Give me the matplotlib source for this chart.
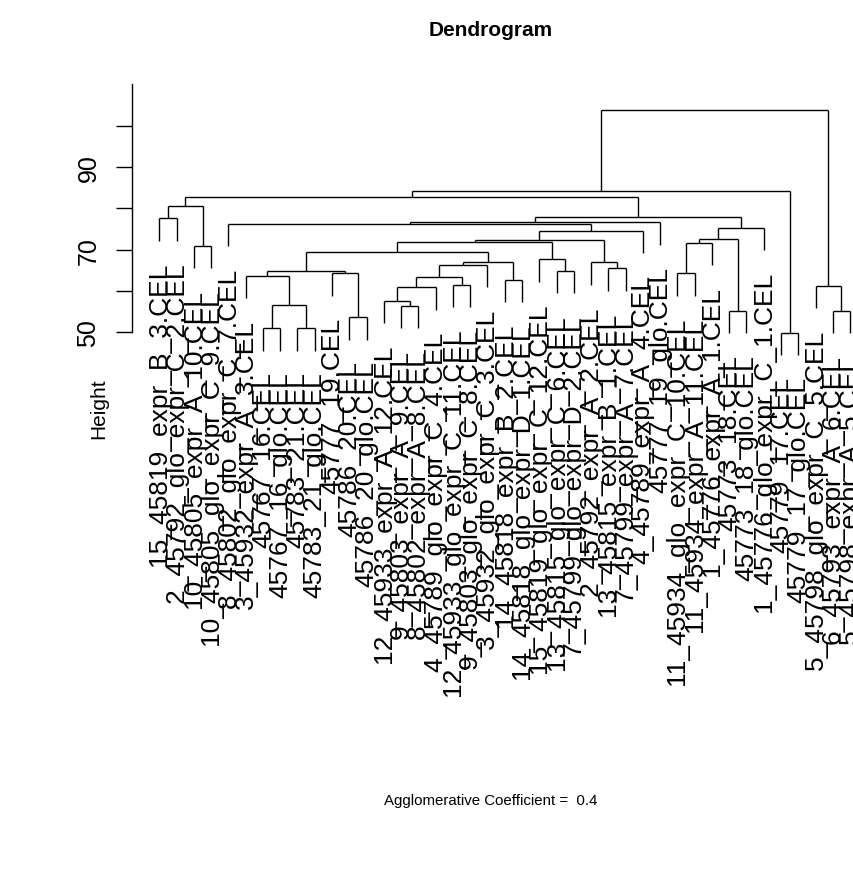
import matplotlib
matplotlib.use("Agg")
import matplotlib.pyplot as plt
from matplotlib.transforms import offset_copy
import numpy as np

plt.rcParams["font.family"] = "Liberation Sans"

# leaf labels, left to right in dendrogram order
labels = [
    "15_45819_expr_B_3.CEL", "2_45792_glo_expr_C_2.CEL", "10_45805_expr_A_10.CEL",
    "10_45805_glo_expr_C_9.CEL", "8_45802_glo_expr_C_7.CEL", "3_45932_expr_A_3.CEL",
    "45767_16.CEL", "45767_16_glo.CEL", "45783_21.CEL", "45783_21_glo.CEL",
    "45777_19.CEL", "45786_20.CEL", "45786_20_glo.CEL", "12_45933_expr_A_12.CEL",
    "9_45803_expr_A_9.CEL", "8_45802_expr_A_8.CEL", "4_45789_glo_expr_C_4.CEL",
    "12_45933_glo_expr_C_11.CEL", "9_45803_glo_expr_C_8.CEL", "3_45932_glo_expr_C_3.CEL",
    "14_45818_expr_B_2.CEL", "14_45818_glo_expr_D_1.CEL", "15_45819_glo_expr_C_12.CEL",
    "13_45815_glo_expr_C_6.CEL", "7_45799_glo_expr_D_2.CEL", "2_45792_expr_A_2.CEL",
    "13_45815_expr_B_1.CEL", "7_45799_expr_A_7.CEL", "4_45789_expr_A_4.CEL",
    "45777_19_glo.CEL", "11_45934_glo_expr_C_10.CEL", "11_45934_expr_A_11.CEL",
    "1_45776_expr_A_1.CEL", "45773_18.CEL", "45773_18_glo.CEL",
    "1_45776_glo_expr_C_1.CEL", "45779_17.CEL", "45779_17_glo.CEL",
    "5_45798_glo_expr_C_5.CEL", "6_45793_expr_A_6.CEL", "5_45798_expr_A_5.CEL",
]

# merge table, R style: negative = leaf position (1-based), positive = earlier merge
merge_a = [-1, -3, 1, -7, -9, 4, -6, -12, -11, 7, -15, -14, 12, -18, 13, 15, -21, 16, 10, -24,
           -23, 19, -27, -26, 22, 25, -5, 27, -31, 29, -34, 30, 32, 28, 3, -37, 35, -40, -39, 37]
merge_b = [-2, -4, 2, -8, -10, 5, 6, -13, 8, 9, -16, 11, -17, -19, 14, -20, -22, 17, 18, -25,
           20, 21, -28, 23, 24, -29, 26, -30, -32, -33, -35, 31, -36, 33, 34, -38, 36, -41, 38, 39]
merge_h = [77.6, 70.9, 80.65, 51.0, 51.0, 56.7, 63.7, 53.6, 64.3, 64.9, 56.4, 57.65, 60.9, 61.5,
           63.3, 66.3, 62.7, 66.9, 69.4, 64.9, 67.7, 71.8, 65.5, 66.9, 72.3, 74.6, 76.3, 76.6,
           64.3, 71.6, 55.2, 72.6, 75.25, 77.8, 82.8, 49.8, 84.1, 55.2, 61.3, 103.9]

ac = 0.4
n = len(labels)
hang = 0.1 * (max(merge_h) - min(merge_h))

W, H = 854, 895
fig = plt.figure(figsize=(W / 100, H / 100), dpi=100)

# plot region in pixels (R style, runs past the right edge of the device)
px_left, px_right = 131.7, 877.7
px_top, px_bot = 77.2, 415.9
ax = fig.add_axes([px_left / W, 1 - px_bot / H, (px_right - px_left) / W, (px_bot - px_top) / H])
ax.set_xlim(1 - 0.04 * (n - 1), n + 0.04 * (n - 1))
ax.set_ylim(30, 112)

lw = 1.0
node_x = {}
leaf_bottom = {}
for i, (a, b, h) in enumerate(zip(merge_a, merge_b, merge_h), start=1):
    xs = []
    for c in (a, b):
        if c < 0:
            cx = -c
            y0 = h - hang
            leaf_bottom[cx] = y0
        else:
            cx = node_x[c]
            y0 = merge_h[c - 1]
        ax.plot([cx, cx], [y0, h], color="black", lw=lw, clip_on=False, solid_capstyle="butt")
        xs.append(cx)
    ax.plot(xs, [h, h], color="black", lw=lw, clip_on=False, solid_capstyle="butt")
    node_x[i] = (xs[0] + xs[1]) / 2

lab_tr = offset_copy(ax.transData, fig=fig, y=-15, units="points")
for k in range(1, n + 1):
    ax.text(k, leaf_bottom[k], labels[k - 1], rotation=90, ha="center", va="top",
            fontsize=19, transform=lab_tr, clip_on=False)

for s in ["top", "right", "bottom"]:
    ax.spines[s].set_visible(False)
ax.spines["left"].set_bounds(50, 110)
ax.spines["left"].set_linewidth(lw)
ax.set_xticks([])
ax.set_yticks([50, 60, 70, 80, 90, 100])
ax.set_yticklabels(["50", "", "70", "", "90", ""], rotation=90, va="center")
ax.tick_params(axis="y", length=11.5, width=lw, pad=11, labelsize=18)
ax.patch.set_visible(False)

fig.text(491 / W, 1 - 31 / H, "Dendrogram", ha="center", va="center",
         fontsize=15, fontweight="bold")
fig.text(99 / W, 1 - 409 / H, "Height", ha="center", va="center", rotation=90, fontsize=15)
fig.text(491 / W, 1 - 801 / H, "Agglomerative Coefficient =  %s" % ac, ha="center",
         va="center", fontsize=10.8)

fig.savefig("out.png", dpi=100)
